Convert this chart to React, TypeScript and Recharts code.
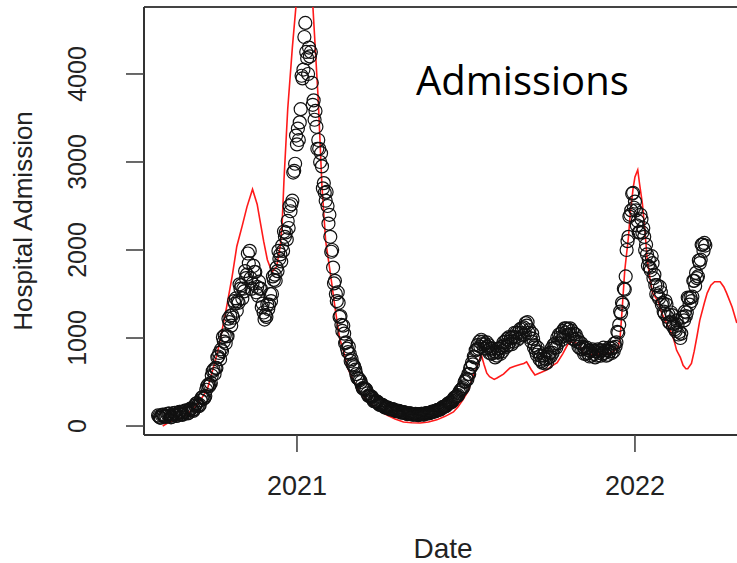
import React from 'react';
import {
  ComposedChart,
  Scatter,
  Line,
  XAxis,
  YAxis,
  ReferenceLine,
} from 'recharts';

// day offsets are counted from 2021-01-01
const admissionStartDay = -150;
const admissionStepDays = 1;

const admissions = [
  120, 108, 96, 95, 122, 131, 128, 112, 104, 110, 136, 142, 140, 115, 99, 105, 131, 148, 150, 130, 114, 120, 149, 162, 160, 138, 126, 135, 162, 176,
  175, 156, 143, 150, 184, 199, 200, 181, 172, 190, 231, 256, 260, 238, 226, 240, 292, 322, 330, 311, 318, 340, 412, 452, 470, 452, 468, 490, 574, 622,
  640, 590, 660, 660, 780, 790, 830, 760, 870, 850, 1010, 960, 1030, 940, 1020, 1020, 1220, 1180, 1250, 1140, 1260, 1230, 1420, 1390, 1450, 1310, 1420, 1400, 1610, 1560,
  1600, 1450, 1560, 1530, 1760, 1680, 1720, 1960, 1850, 1990, 1680, 1560, 1620, 1820, 1750, 1750, 1520, 1580, 1480, 1640, 1560, 1560, 1350, 1390, 1290, 1210, 1260, 1240, 1380, 1330,
  1380, 1500, 1420, 1500, 1700, 1660, 1720, 1650, 1800, 1760, 1990, 1900, 1950, 1870, 2050, 1990, 2210, 2150, 2200, 2120, 2330, 2250, 2500, 2440, 2520, 2560, 2880, 2900, 2980, 3300,
  3200, 3380, 3250, 3450, 3600, 3980, 3950, 4050, 4420, 4580, 4250, 4180, 4000, 4300, 4200, 4250, 3900, 3650, 3700, 3480, 3580, 3400, 3150, 3250, 3150, 3000, 3100, 2950, 2700, 2760,
  2650, 2560, 2660, 2500, 2300, 2400, 2150, 1980, 2000, 1800, 1620, 1650, 1500, 1420, 1520, 1400, 1240, 1250, 1150, 1080, 1140, 1050, 940, 950, 880, 840, 900, 820, 740, 760,
  700, 690, 670, 640, 590, 550, 540, 535, 520, 500, 460, 430, 420, 425, 420, 410, 370, 345, 340, 342, 338, 330, 302, 282, 280, 284, 280, 275, 255, 242,
  240, 243, 240, 235, 220, 210, 210, 212, 210, 205, 196, 188, 190, 192, 190, 185, 176, 168, 170, 173, 171, 168, 158, 152, 155, 157, 154, 150, 142, 136,
  140, 144, 145, 142, 134, 128, 130, 135, 137, 135, 127, 124, 128, 135, 139, 138, 133, 130, 135, 143, 148, 148, 144, 146, 150, 159, 163, 165, 164, 166,
  170, 178, 184, 185, 186, 191, 200, 211, 218, 220, 222, 229, 240, 252, 261, 265, 268, 274, 285, 306, 320, 330, 334, 340, 350, 378, 398, 410, 420, 432,
  450, 500, 510, 540, 530, 590, 590, 660, 670, 720, 700, 790, 780, 860, 870, 920, 880, 960, 900, 980, 930, 960, 880, 930, 880, 950, 900, 920, 830, 880,
  820, 880, 830, 850, 780, 840, 800, 880, 840, 880, 820, 900, 850, 950, 920, 960, 900, 990, 920, 1010, 960, 1000, 930, 1010, 960, 1060, 1010, 1060, 980, 1060,
  1000, 1100, 1060, 1110, 1030, 1120, 1040, 1170, 1140, 1180, 1060, 1090, 1000, 960, 1050, 990, 890, 920, 850, 810, 890, 840, 760, 800, 740, 720, 800, 770, 710, 760,
  720, 810, 780, 830, 790, 880, 830, 920, 890, 940, 890, 1000, 940, 1040, 1000, 1050, 980, 1080, 1020, 1110, 1060, 1110, 1030, 1100, 1040, 1110, 1040, 1080, 990, 1050,
  980, 1040, 960, 990, 900, 950, 880, 940, 870, 900, 820, 880, 820, 890, 830, 860, 790, 850, 800, 870, 820, 850, 780, 850, 800, 870, 830, 860, 800, 860,
  820, 890, 830, 860, 800, 860, 810, 890, 850, 880, 830, 890, 850, 940, 900, 950, 1070, 1060, 1150, 1300, 1280, 1400, 1380, 1560, 1550, 1700, 2000, 2100, 2150, 2380,
  2400, 2450, 2640, 2650, 2480, 2550, 2450, 2280, 2330, 2200, 2200, 2400, 2350, 2200, 2250, 2150, 2000, 2060, 1950, 1820, 1890, 1800, 1770, 1930, 1850, 1680, 1720, 1600, 1500, 1600,
  1480, 1450, 1580, 1520, 1380, 1400, 1300, 1280, 1420, 1380, 1240, 1270, 1180, 1170, 1290, 1260, 1130, 1160, 1100, 1080, 1200, 1150, 1040, 1070, 1000, 1050, 1230, 1240, 1200, 1300,
  1250, 1290, 1460, 1450, 1380, 1460, 1420, 1470, 1650, 1650, 1590, 1740, 1680, 1700, 1880, 1850, 1890, 2060, 2060, 1990, 2080, 2050,
];

// fitted model curve (red line)
const fitDays = [
  -145, -137, -129, -123, -117, -110, -104, -97, -92, -86,
  -81, -76, -70, -65, -59, -54, -48, -43, -40, -36,
  -32, -27, -22, -18, -16, -14, -10, -5, 0, 4,
  9, 13, 17, 23, 27, 31, 36, 41, 46, 50,
  55, 61, 68, 79, 88, 97, 106, 115, 124, 133,
  142, 151, 160, 169, 174, 179, 185, 190, 194, 199,
  202, 205, 208, 213, 216, 223, 230, 235, 241, 245,
  248, 253, 257, 264, 270, 275, 281, 287, 292, 295,
  302, 306, 309, 316, 327, 335, 341, 347, 349, 351,
  354, 358, 360, 363, 365, 368, 370, 373, 376, 378,
  381, 384, 390, 394, 399, 403, 407, 410, 414, 417,
  420, 422, 426, 429, 432, 435, 440, 443, 447, 451,
  457, 461, 464, 470, 475,
];
const fitValues = [
  0, 50, 75, 100, 150, 215, 300, 410, 600, 830,
  1080, 1350, 1700, 2040, 2280, 2490, 2690, 2520, 2340, 2100,
  1890, 1750, 1810, 2050, 2300, 2800, 3600, 4300, 4900, 5400,
  5600, 5300, 4800, 3700, 2720, 2100, 1740, 1350, 1000, 860,
  650, 520, 380, 260, 180, 125, 80, 45, 38, 35,
  45, 70, 110, 160, 220, 295, 400, 560, 660, 810,
  700, 600, 560, 530, 545, 590, 660, 680, 700, 710,
  730, 640, 580, 610, 640, 680, 720, 820, 920, 955,
  940, 900, 830, 810, 820, 815, 840, 900, 1010, 1300,
  1770, 2150, 2420, 2700, 2830, 2910, 2750, 2530, 2190, 1920,
  1690, 1510, 1420, 1280, 1170, 1090, 980, 860, 780, 690,
  650, 650, 710, 850, 1020, 1200, 1400, 1510, 1600, 1640,
  1640, 1580, 1510, 1350, 1170,
];

const yTicks = [0, 1000, 2000, 3000, 4000];
const xTicks = [0, 365];
const xTickLabels = ['2021', '2022'];

const observed = admissions.map((value, i) => ({
  day: admissionStartDay + i * admissionStepDays,
  value,
}));
const fitted = fitDays.map((day, i) => ({ day, value: fitValues[i] }));

const AXIS_FONT = '"Liberation Sans", Arial, Helvetica, sans-serif';

const OpenCircle = (props: any) => {
  const { cx, cy } = props;
  if (cx == null || cy == null) return null;
  return <circle cx={cx} cy={cy} r={6.5} fill="none" stroke="#111" strokeWidth={1.2} />;
};

const YTick = ({ x, y, payload }: any) => {
  const bx = x - 38;
  return (
    <text
      x={bx}
      y={y}
      transform={`rotate(-90, ${bx}, ${y})`}
      textAnchor="middle"
      fontSize={25}
      fontFamily={AXIS_FONT}
      fill="#222"
    >
      {payload.value}
    </text>
  );
};

const XTick = ({ x, y, payload }: any) => {
  const idx = xTicks.indexOf(payload.value);
  return (
    <text x={x} y={y + 41} textAnchor="middle" fontSize={27} fontFamily={AXIS_FONT} fill="#222">
      {xTickLabels[idx] ?? ''}
    </text>
  );
};

export default function App() {
  return (
    <div style={{ position: 'absolute', left: 0, top: 0, width: 737, height: 563, background: '#fff' }}>
      <ComposedChart width={737} height={563} margin={{ top: 7, right: 0, bottom: 0, left: 0 }}>
        <XAxis
          type="number"
          dataKey="day"
          domain={[-165.2, 475.2]}
          allowDataOverflow
          ticks={xTicks}
          tick={<XTick />}
          tickSize={17}
          height={128}
          axisLine={{ stroke: '#333', strokeWidth: 2 }}
          tickLine={{ stroke: '#444', strokeWidth: 1.6 }}
        />
        <YAxis
          type="number"
          dataKey="value"
          domain={[-102, 4761]}
          allowDataOverflow
          ticks={yTicks}
          tick={<YTick />}
          tickSize={18}
          width={144}
          axisLine={{ stroke: '#333', strokeWidth: 2 }}
          tickLine={{ stroke: '#444', strokeWidth: 1.6 }}
        />
        <ReferenceLine y={4761} stroke="#444" strokeWidth={2} />
        <Scatter data={observed} shape={<OpenCircle />} isAnimationActive={false} />
        <Line
          data={fitted}
          dataKey="value"
          type="linear"
          stroke="#ff1a1a"
          strokeWidth={1.6}
          dot={false}
          activeDot={false}
          isAnimationActive={false}
        />
      </ComposedChart>
      <svg
        width={737}
        height={563}
        style={{ position: 'absolute', left: 0, top: 0, pointerEvents: 'none' }}
      >
        <text
          x={32}
          y={221}
          transform="rotate(-90, 32, 221)"
          textAnchor="middle"
          fontSize={26}
          fontFamily={AXIS_FONT}
          fill="#222"
        >
          Hospital Admission
        </text>
        <text x={443} y={558} textAnchor="middle" fontSize={28} fontFamily={AXIS_FONT} fill="#222">
          Date
        </text>
        <text x={416} y={95} fontSize={40} fontFamily='"Open Sans", sans-serif' fill="#000">
          Admissions
        </text>
      </svg>
    </div>
  );
}
